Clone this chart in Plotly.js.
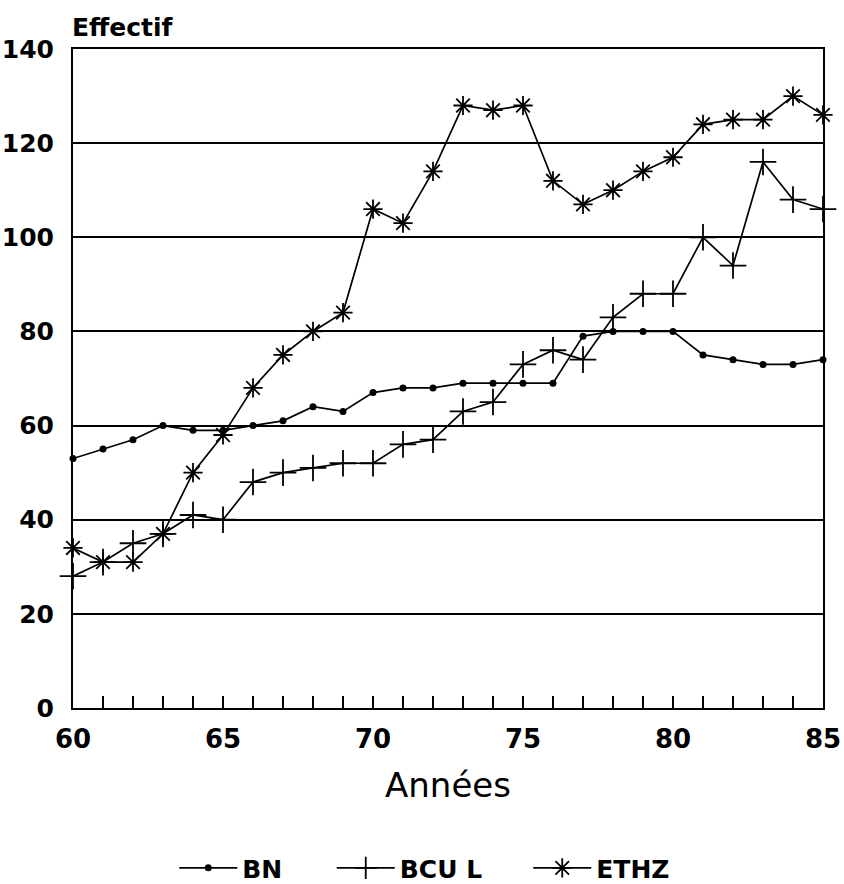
<!DOCTYPE html>
<html>
<head>
<meta charset="utf-8">
<script src="https://cdn.plot.ly/plotly-3.0.1.min.js"></script>
<style>html,body{margin:0;padding:0;background:#fff;}</style>
</head>
<body>
<div id="chart" style="width:844px;height:884px;"></div>
<script>
const years = [60,61,62,63,64,65,66,67,68,69,70,71,72,73,74,75,76,77,78,79,80,81,82,83,84,85];
const bn   = [53,55,57,60,59,59,60,61,64,63,67,68,68,69,69,69,69,79,80,80,80,75,74,73,73,74];
const bcul = [28,31,35,37,41,40,48,50,51,52,52,56,57,63,65,73,76,74,83,88,88,100,94,116,108,106];
const ethz = [34,31,31,37,50,58,68,75,80,84,106,103,114,128,127,128,112,107,110,114,117,124,125,125,130,126];
const seriesNames = ['BN','BCU L','ETHZ'];
const xTickVals = years;
const xTickText = years.map(y => (y % 5 === 0 ? String(y) : ''));
const yTickVals = [0,20,40,60,80,100,120,140];

const FONT = 'DejaVu Sans';
const lineStyle = {color:'#000', width:1.7};

const traces = [
  {x: years, y: bn, name: seriesNames[0], mode:'lines+markers', line: lineStyle,
   marker:{symbol:'circle', size:7, color:'#000'}, cliponaxis:false, legend:'legend'},
  {x: years, y: bcul, name: seriesNames[1], mode:'lines+markers', line: lineStyle,
   marker:{symbol:'cross-thin', size:19, color:'#000', line:{color:'#000', width:1.8}}, cliponaxis:false, legend:'legend2'},
  {x: years, y: ethz, name: seriesNames[2], mode:'lines+markers', line: lineStyle,
   marker:{symbol:'asterisk-open', size:16, color:'#000', line:{color:'#000', width:1.8}}, cliponaxis:false, legend:'legend3'}
];

const legFont = {family: FONT, size: 25, color:'#000', weight:'bold'};
function leg(x){
  return {orientation:'h', xref:'paper', x:x, yref:'container', y:0.018, xanchor:'left', yanchor:'middle',
          font: legFont, itemwidth: 58, bgcolor:'rgba(0,0,0,0)', borderwidth:0};
}

const layout = {
  width: 844, height: 884,
  margin: {l:73, r:21, t:49, b:176},
  paper_bgcolor:'#fff', plot_bgcolor:'#fff',
  showlegend: true,
  legend: leg(0.135),
  legend2: leg(0.345),
  legend3: leg(0.607),
  xaxis: {
    range:[60,85], tickvals: xTickVals, ticktext: xTickText, automargin:false,
    ticks:'inside', ticklen:12, tickwidth:1.7, tickcolor:'#000',
    showgrid:false, zeroline:false,
    showline:true, linecolor:'#000', linewidth:2, mirror:true,
    tickfont:{family: FONT, size:26, color:'#000', weight:'bold'},
    ticklabelstandoff: 7,
    title:{text:'Années', font:{family: FONT, size:34, color:'#000'}, standoff:20}
  },
  yaxis: {
    range:[0,140], tickvals: yTickVals, ticks:'', automargin:false,
    showgrid:true, gridcolor:'#000', gridwidth:2, zeroline:false,
    showline:true, linecolor:'#000', linewidth:2, mirror:true,
    tickfont:{family: FONT, size:25, color:'#000', weight:'bold'},
    ticklabelstandoff: 12
  },
  annotations: [
    {text:'Effectif', xref:'paper', yref:'paper', x:-0.004, y:1.033, xanchor:'left', yanchor:'middle',
     showarrow:false, font:{family: FONT, size:25, color:'#000', weight:'bold'}}
  ]
};

Plotly.newPlot('chart', traces, layout, {displayModeBar:false, staticPlot:true});
</script>
</body>
</html>
